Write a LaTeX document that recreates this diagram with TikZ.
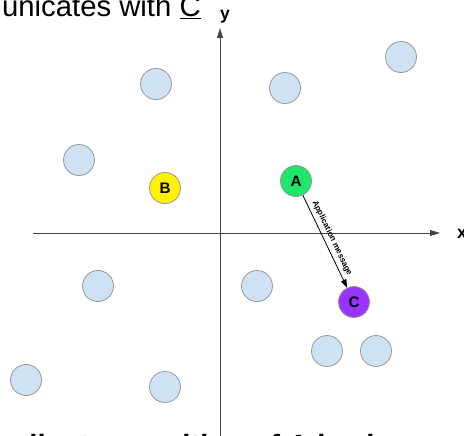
\documentclass[tikz,border=0pt]{standalone}
\usepackage{fontspec}
\setmainfont{Liberation Sans}
\usetikzlibrary{arrows.meta,positioning}
\definecolor{peerblue}{HTML}{CFE2F3}
\definecolor{peerborder}{HTML}{999999}
\definecolor{greenA}{HTML}{1DE66B}
\definecolor{purpleC}{HTML}{9933FF}
\definecolor{axisgray}{HTML}{444444}

\begin{document}
\begin{tikzpicture}[x=0.03cm, y=-0.03cm,
    peer/.style={circle, draw=peerborder, fill=peerblue, line width=0.7pt,
        minimum size=0.93cm, inner sep=0pt},
    named/.style={peer, font=\fontsize{13}{13}\selectfont\bfseries},
    axis/.style={draw=axisgray, line width=0.8pt, -{Triangle[length=8.5pt, width=5pt]}},
    line/.style={draw, line width=0.7pt, -{Triangle[length=7pt, width=5pt]}},
    caption/.style={inner sep=0pt, font=\fontsize{25}{25}\selectfont}
    ]
    \useasboundingbox (0,0) rectangle (464,435);
    \clip (0,0) rectangle (464,435);

    % Axes
    \coordinate (xstart) at (33,233);
    \coordinate (xend) at (440,233);
    \coordinate (ystart) at (220,445);
    \coordinate (yend) at (220,28);
    \draw[axis] (xstart) -- (xend);
    \draw[axis] (ystart) -- (yend);
    \node[inner sep=0pt, font=\fontsize{15}{15}\selectfont\bfseries] (ylabel) at (225,17) {y};
    \node[inner sep=0pt, anchor=west, font=\fontsize{15}{15}\selectfont\bfseries] (xlabel) at (457,234) {x};

    % Nodes
    \node[peer] (peer1) at (156,84) {};
    \node[peer] (peer2) at (285,88) {};
    \node[peer] (peer3) at (401,57) {};
    \node[peer] (peer4) at (79,160) {};
    \node[peer] (peer5) at (98,286) {};
    \node[peer] (peer6) at (257,286) {};
    \node[peer] (peer7) at (327,351) {};
    \node[peer] (peer8) at (376,351) {};
    \node[peer] (peer9) at (26,380) {};
    \node[peer] (peer10) at (165,387) {};
    \node[named, fill=yellow] (nodeB) at (165,188) {B};
    \node[named, fill=greenA] (nodeA) at (296,181) {A};
    \node[named, fill=purpleC] (nodeC) at (354,302) {C};

    % Paths
    \draw[line] (nodeA) -- node[sloped, above=1.5pt, inner sep=1.5pt,
        font=\fontsize{7}{7}\selectfont\bfseries] {Application message} (nodeC);

    % Text cut by the frame
    \node[caption, anchor=base east] (toptext) at (201,16) {unicates with \underline{C}};
    \node[caption, anchor=base west, font=\fontsize{25}{25}\selectfont\bfseries] (bottomtext) at (-44,455) {coordinates position of A is also};
\end{tikzpicture}
\end{document}
